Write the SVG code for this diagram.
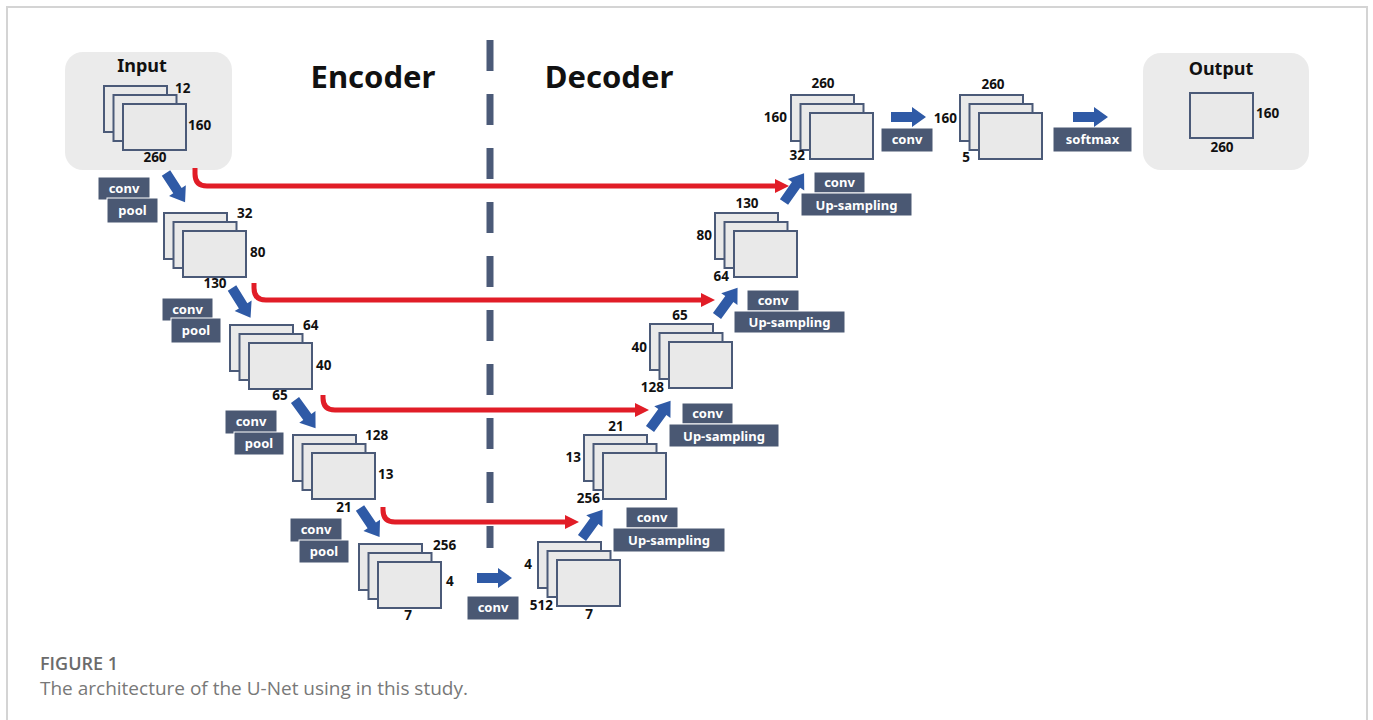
<svg xmlns="http://www.w3.org/2000/svg" xmlns:xlink="http://www.w3.org/1999/xlink" width="1373" height="720" viewBox="0 0 1373 720">
<style>
.fm{fill:#e9e9e9;stroke:#4b5a78;stroke-width:2}
.lb{font-family:"Noto Sans","Liberation Sans",sans-serif;font-weight:700;font-size:13.5px;fill:#111}
.bx{fill:#4a5873;stroke:#ffffff;stroke-width:1}
.bt{font-family:"Noto Sans","Liberation Sans",sans-serif;font-weight:700;font-size:13px;fill:#fff;text-anchor:middle}
.ttl{font-family:"Noto Sans","Liberation Sans",sans-serif;font-weight:700;font-size:31px;fill:#111;text-anchor:middle}
.hd{font-family:"Noto Sans","Liberation Sans",sans-serif;font-weight:700;font-size:18px;fill:#111;text-anchor:middle}
.skip{fill:none;stroke:#e11d27;stroke-width:5;marker-end:url(#ra)}
.ba{fill:#2f5aa6}
</style>
<defs>
<marker id="ra" viewBox="0 0 14 14" refX="2" refY="7" markerWidth="14" markerHeight="14" markerUnits="userSpaceOnUse" orient="auto"><path d="M0,0 L14,7 L0,14 Z" fill="#e11d27"/></marker>
<path id="arr" d="M0,-5 L21,-5 L21,-10 L35,0 L21,10 L21,5 L0,5 Z"/>
<g id="stk">
<rect class="fm" x="-19" y="-18" width="63" height="46"/>
<rect class="fm" x="-9.5" y="-9" width="63" height="46"/>
<rect class="fm" x="0" y="0" width="63" height="46"/>
</g>
</defs>
<rect width="1373" height="720" fill="#fff"/>
<path d="M7,720 V7 H1367 V720" fill="none" stroke="#d4d4d4" stroke-width="2"/>

<!-- divider -->
<line x1="490" y1="40" x2="490" y2="548" stroke="#4b5a78" stroke-width="7" stroke-dasharray="31 23"/>

<text class="ttl" x="373" y="88">Encoder</text>
<text class="ttl" x="609" y="88">Decoder</text>

<!-- Input -->
<g id="input">
<rect x="65" y="52" width="167" height="118" rx="18" fill="#ebebeb"/>
<text class="hd" x="142" y="72">Input</text>
<use href="#stk" x="123" y="104"/>
<text class="lb" x="175" y="93">12</text>
<text class="lb" x="188" y="130">160</text>
<text class="lb" x="155" y="162" text-anchor="middle">260</text>
</g>

<g id="enc1">
<use href="#stk" x="183" y="231"/>
<text class="lb" x="237" y="218">32</text>
<text class="lb" x="250" y="257">80</text>
<text class="lb" x="215" y="288" text-anchor="middle">130</text>
</g>
<g id="enc2">
<use href="#stk" x="249" y="343"/>
<text class="lb" x="303" y="330">64</text>
<text class="lb" x="316" y="370">40</text>
<text class="lb" x="280" y="400" text-anchor="middle">65</text>
</g>
<g id="enc3">
<use href="#stk" x="312" y="453"/>
<text class="lb" x="365" y="440">128</text>
<text class="lb" x="378" y="479">13</text>
<text class="lb" x="344" y="512" text-anchor="middle">21</text>
</g>
<g id="enc4">
<use href="#stk" x="378" y="562"/>
<text class="lb" x="433" y="550">256</text>
<text class="lb" x="446" y="586">4</text>
<text class="lb" x="408" y="620" text-anchor="middle">7</text>
</g>

<g id="dec5">
<use href="#stk" x="557" y="560"/>
<text class="lb" x="532" y="569" text-anchor="end">4</text>
<text class="lb" x="553" y="610" text-anchor="end">512</text>
<text class="lb" x="589" y="619" text-anchor="middle">7</text>
</g>
<g id="dec4">
<use href="#stk" x="603" y="453"/>
<text class="lb" x="616" y="431" text-anchor="middle">21</text>
<text class="lb" x="581" y="462" text-anchor="end">13</text>
<text class="lb" x="600" y="503" text-anchor="end">256</text>
</g>
<g id="dec3">
<use href="#stk" x="669" y="342"/>
<text class="lb" x="680" y="320" text-anchor="middle">65</text>
<text class="lb" x="647" y="352" text-anchor="end">40</text>
<text class="lb" x="664" y="392" text-anchor="end">128</text>
</g>
<g id="dec2">
<use href="#stk" x="734" y="231"/>
<text class="lb" x="747" y="208" text-anchor="middle">130</text>
<text class="lb" x="712" y="240" text-anchor="end">80</text>
<text class="lb" x="729" y="281" text-anchor="end">64</text>
</g>
<g id="dec1">
<use href="#stk" x="810" y="113"/>
<text class="lb" x="823" y="88" text-anchor="middle">260</text>
<text class="lb" x="787" y="122" text-anchor="end">160</text>
<text class="lb" x="805" y="160" text-anchor="end">32</text>
</g>
<g id="final">
<use href="#stk" x="979" y="113"/>
<text class="lb" x="993" y="89" text-anchor="middle">260</text>
<text class="lb" x="957" y="123" text-anchor="end">160</text>
<text class="lb" x="966" y="162" text-anchor="middle">5</text>
</g>

<g id="output">
<rect x="1143" y="53" width="166" height="117" rx="18" fill="#ebebeb"/>
<text class="hd" x="1221" y="75">Output</text>
<rect class="fm" x="1190" y="93" width="63" height="45"/>
<text class="lb" x="1256" y="118">160</text>
<text class="lb" x="1222" y="152" text-anchor="middle">260</text>
</g>

<!-- operation labels -->
<g id="ops">
<rect class="bx" x="98" y="177" width="52" height="23"/><text class="bt" x="124" y="193">conv</text>
<rect class="bx" x="107" y="198" width="51" height="25"/><text class="bt" x="132.5" y="215">pool</text>
<rect class="bx" x="162" y="298" width="51" height="23"/><text class="bt" x="187.5" y="314">conv</text>
<rect class="bx" x="171" y="318" width="50" height="25"/><text class="bt" x="196" y="335">pool</text>
<rect class="bx" x="225" y="410" width="52" height="24"/><text class="bt" x="251" y="426">conv</text>
<rect class="bx" x="234" y="432" width="50" height="23"/><text class="bt" x="259" y="448">pool</text>
<rect class="bx" x="290" y="518" width="52" height="24"/><text class="bt" x="316" y="534">conv</text>
<rect class="bx" x="299" y="540" width="50" height="23"/><text class="bt" x="324" y="556">pool</text>

<rect class="bx" x="467" y="596" width="52" height="24"/><text class="bt" x="493" y="612">conv</text>

<rect class="bx" x="626" y="507" width="52" height="21"/><text class="bt" x="652" y="522">conv</text>
<rect class="bx" x="613" y="528" width="112" height="24"/><text class="bt" x="669" y="545">Up-sampling</text>
<rect class="bx" x="682" y="403" width="51" height="21"/><text class="bt" x="707.5" y="418">conv</text>
<rect class="bx" x="669" y="424" width="110" height="23"/><text class="bt" x="724" y="440.5">Up-sampling</text>
<rect class="bx" x="747" y="290" width="52" height="21"/><text class="bt" x="773" y="305">conv</text>
<rect class="bx" x="734" y="311" width="111" height="22"/><text class="bt" x="789.5" y="327">Up-sampling</text>
<rect class="bx" x="814" y="172" width="51" height="21"/><text class="bt" x="839.5" y="187">conv</text>
<rect class="bx" x="801" y="193" width="111" height="23"/><text class="bt" x="856.5" y="209.5">Up-sampling</text>

<rect class="bx" x="881" y="128" width="52" height="24"/><text class="bt" x="907" y="144">conv</text>
<rect class="bx" x="1053" y="127" width="79" height="25"/><text class="bt" x="1092.5" y="144">softmax</text>
</g>

<!-- connectors -->
<g id="connectors">
<path class="skip" d="M195,168 V174 Q195,186 207,186 H777"/>
<path class="skip" d="M254,283 V288 Q254,300 266,300 H703"/>
<path class="skip" d="M323,395 V398 Q323,410 335,410 H637"/>
<path class="skip" d="M383,507 V510 Q383,522 395,522 H567"/>

<use href="#arr" class="ba" transform="translate(166,173) rotate(57)"/>
<use href="#arr" class="ba" transform="translate(232,288) rotate(58)"/>
<use href="#arr" class="ba" transform="translate(295,400) rotate(54)"/>
<use href="#arr" class="ba" transform="translate(360,508) rotate(56)"/>

<use href="#arr" class="ba" transform="translate(477,578)"/>

<use href="#arr" class="ba" transform="translate(582,538) rotate(-54)"/>
<use href="#arr" class="ba" transform="translate(650,429) rotate(-54)"/>
<use href="#arr" class="ba" transform="translate(717,316) rotate(-54)"/>
<use href="#arr" class="ba" transform="translate(784,202) rotate(-55)"/>

<use href="#arr" class="ba" transform="translate(891,117)"/>
<use href="#arr" class="ba" transform="translate(1073,117)"/>
</g>

<!-- caption -->
<text x="40" y="670" font-family="'Open Sans','Noto Sans',sans-serif" font-weight="600" font-size="18" fill="#6b6b6b" textLength="78" lengthAdjust="spacingAndGlyphs">FIGURE 1</text>
<text x="40" y="695" font-family="'Open Sans','Noto Sans',sans-serif" font-size="18.5" fill="#787878" textLength="428" lengthAdjust="spacingAndGlyphs">The architecture of the U-Net using in this study.</text>
</svg>
